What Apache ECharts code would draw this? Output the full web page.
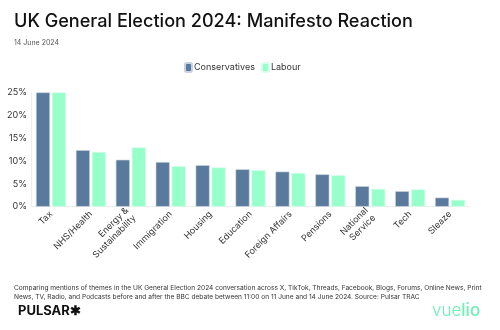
<!DOCTYPE html>
<html><head><meta charset="utf-8">
<script src="https://cdn.jsdelivr.net/npm/echarts@6/dist/echarts.min.js"></script>
<style>html,body{margin:0;padding:0;background:#fff}#c{width:500px;height:330px}</style>
</head><body><div id="c"></div>
<script>
const categories = ['Tax','NHS/Health','Energy &\nSustainability','Immigration','Housing','Education','Foreign Affairs','Pensions','National\nService','Tech','Sleaze'];
const conservatives = [25.1, 12.4, 10.3, 9.8, 9.1, 8.2, 7.7, 7.1, 4.5, 3.4, 2.0];
const labour = [25.3, 12.0, 13.0, 8.9, 8.6, 8.0, 7.4, 6.9, 3.9, 3.8, 1.5];
const yTicks = [0, 5, 10, 15, 20, 25];

const F = 'Inter, "Noto Sans", sans-serif';
const chart = echarts.init(document.getElementById('c'), null, {renderer:'canvas'});
chart.setOption({
  animation:false,
  textStyle:{fontFamily:F},
  title:[
    {text:'UK General Election 2024: Manifesto Reaction', left:9, top:8, textStyle:{fontSize:18.1, fontWeight:500, color:'#111', fontFamily:F}},
    {text:'14 June 2024', left:9, top:34, textStyle:{fontSize:7, fontWeight:400, color:'#555', fontFamily:F}},
    {text:'Comparing mentions of themes in the UK General Election 2024 conversation across X, TikTok, Threads, Facebook, Blogs, Forums, Online News, Print\nNews, TV, Radio, and Podcasts before and after the BBC debate between 11:00 on 11 June and 14 June 2024. Source: Pulsar TRAC',
     left:9, top:279, textStyle:{fontSize:6.6, fontWeight:400, color:'#333', lineHeight:9, fontFamily:F}}
  ],
  legend:{
    data:['Conservatives','Labour'], left:179, top:57, itemWidth:7, itemHeight:9, itemGap:6,
    icon:'roundRect',
    textStyle:{fontSize:9, color:'#333', padding:[0,0,0,-3]}
  },
  grid:{left:31, right:30, top:92.7, bottom:123.3, containLabel:false},
  xAxis:{
    type:'category', data:categories,
    axisLine:{lineStyle:{color:'#eee'}},
    axisTick:{show:false},
    axisLabel:{rotate:45, fontSize:9, color:'#333', interval:0, margin:6, lineHeight:10.5}
  },
  yAxis:{
    type:'value', min:0, max:25, interval:5,
    axisLine:{show:true, lineStyle:{color:'#eee'}},
    splitLine:{show:false},
    axisLabel:{formatter:'{value}%', fontSize:9, color:'#333', margin:4}
  },
  series:[
    {name:'Conservatives', type:'bar', data:conservatives, barWidth:14, barGap:'14%',
     itemStyle:{color:'#5A7A9D', borderColor:'#c9d3df', borderWidth:0.6}},
    {name:'Labour', type:'bar', data:labour, barWidth:14,
     itemStyle:{color:'#96FFCA', borderColor:'#d8ffec', borderWidth:0.6}}
  ],
  graphic:[
    {type:'text', left:18, top:305, style:{text:'PULSAR✱', font:'bold 13px '+F, fill:'#111'}},
    {type:'text', left:432, top:302, style:{rich:{a:{fontSize:17, fontWeight:300, fill:'#6ef0b4', fontFamily:F},b:{fontSize:17, fontWeight:500, fill:'#6ef0b4', fontFamily:F}}, text:'{a|vue}{b|lio}'}}
  ]
});
</script></body></html>
